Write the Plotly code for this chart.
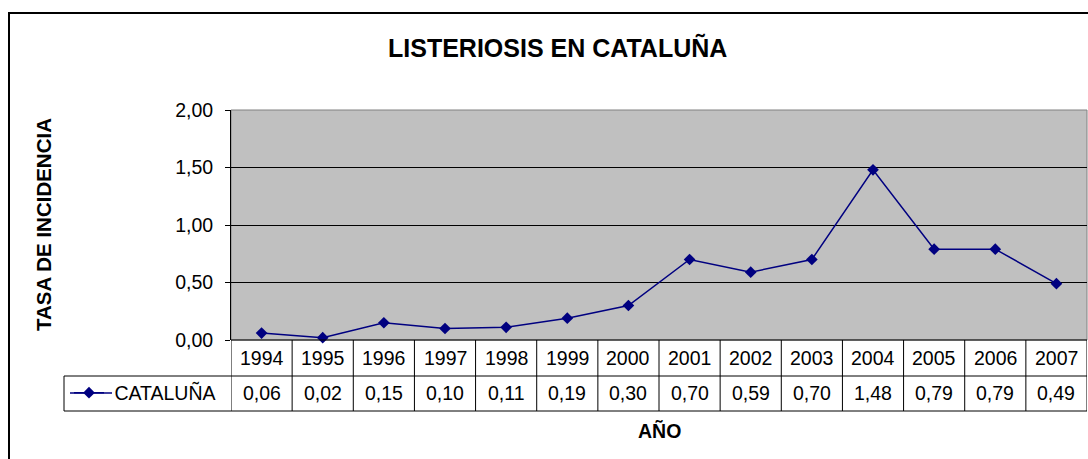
import plotly.graph_objects as go

years = [1994, 1995, 1996, 1997, 1998, 1999, 2000, 2001, 2002, 2003, 2004, 2005, 2006, 2007]
cataluna = [0.06, 0.02, 0.15, 0.10, 0.11, 0.19, 0.30, 0.70, 0.59, 0.70, 1.48, 0.79, 0.79, 0.49]
series_name = "CATALUÑA"
title_text = "LISTERIOSIS EN CATALUÑA"
y_title = "TASA DE INCIDENCIA"
x_title = "AÑO"

W, H = 1088, 459
L, R, T, B = 231, 1087, 110, 340
FONT = "Arial, Liberation Sans, sans-serif"
FS = 19.5
NAVY = "#000080"


def px_x(x):
    return (x - L) / (R - L)


def px_y(y):
    return (B - y) / (B - T)


def fmt(v):
    return f"{v:.2f}".replace(".", ",")


fig = go.Figure()
fig.add_trace(go.Scatter(
    x=years, y=cataluna, mode="lines+markers", name="\u00a0" + series_name,
    line=dict(color=NAVY, width=1.5),
    marker=dict(symbol="diamond", size=9, color=NAVY),
    cliponaxis=False,
))

shapes = []
line_k = dict(color="black", width=1)
# outer chart border
shapes.append(dict(type="rect", xref="paper", yref="paper",
                   x0=px_x(9), x1=px_x(1100), y0=px_y(480), y1=px_y(13),
                   line=dict(color="black", width=2)))
# plot area border (gray top/right)
shapes.append(dict(type="rect", xref="paper", yref="paper", x0=0, x1=1, y0=0, y1=1,
                   line=dict(color="#808080", width=1), layer="below"))
# data table lines
row1, row2 = px_y(376), px_y(411)
x_lo, x_hi = years[0] - 0.5, years[-1] + 0.5
for i in range(len(years) + 1):
    xv = years[0] - 0.5 + i
    shapes.append(dict(type="line", xref="x", yref="paper", x0=xv, x1=xv, y0=row2, y1=0, line=line_k))
shapes.append(dict(type="line", xref="x", yref="paper", x0=x_lo, x1=x_hi, y0=0, y1=0, line=line_k))
shapes.append(dict(type="line", xref="paper", yref="paper", x0=px_x(64), x1=1, y0=row1, y1=row1, line=line_k))
shapes.append(dict(type="line", xref="paper", yref="paper", x0=px_x(64), x1=1, y0=row2, y1=row2, line=line_k))
shapes.append(dict(type="line", xref="paper", yref="paper", x0=px_x(64), x1=px_x(64), y0=row2, y1=row1, line=line_k))
# longer legend key line (Excel style)
shapes.append(dict(type="line", xref="paper", yref="paper", x0=px_x(70), x1=px_x(112),
                   y0=px_y(393), y1=px_y(393), line=dict(color=NAVY, width=1.5)))

annotations = []
for yr, v in zip(years, cataluna):
    annotations.append(dict(x=yr, xref="x", y=px_y(358), yref="paper", text=str(yr), showarrow=False,
                            font=dict(family=FONT, size=FS, color="black"), xanchor="center", yanchor="middle"))
    annotations.append(dict(x=yr, xref="x", y=px_y(393), yref="paper", text=fmt(v), showarrow=False,
                            font=dict(family=FONT, size=FS, color="black"), xanchor="center", yanchor="middle"))
annotations.append(dict(x=px_x(557), xref="paper", y=px_y(47), yref="paper", text=f"<b>{title_text}</b>",
                        showarrow=False, font=dict(family=FONT, size=25, color="black"),
                        xanchor="center", yanchor="middle"))
annotations.append(dict(x=px_x(43), xref="paper", y=0.5, yref="paper", text=f"<b>{y_title}</b>",
                        showarrow=False, textangle=-90, font=dict(family=FONT, size=20.5, color="black"),
                        xanchor="center", yanchor="middle"))
annotations.append(dict(x=0.5, xref="paper", y=px_y(431), yref="paper", text=f"<b>{x_title}</b>",
                        showarrow=False, font=dict(family=FONT, size=FS, color="black"),
                        xanchor="center", yanchor="middle"))

fig.update_layout(
    width=W, height=H,
    margin=dict(l=L, r=W - R, t=T, b=H - B, pad=0),
    paper_bgcolor="white", plot_bgcolor="#C0C0C0",
    separators=",.",
    font=dict(family=FONT, size=FS, color="black"),
    showlegend=True,
    legend=dict(x=px_x(69), y=px_y(393), xanchor="left", yanchor="middle",
                bgcolor="rgba(0,0,0,0)", borderwidth=0, font=dict(family=FONT, size=FS, color="black")),
    xaxis=dict(range=[x_lo, x_hi], showgrid=False, zeroline=False, showticklabels=False,
               showline=False, ticks=""),
    yaxis=dict(range=[0, 2], dtick=0.5, tickformat=".2f", showgrid=True, gridcolor="black",
               gridwidth=1, zeroline=False, showline=True, linecolor="black", linewidth=1,
               ticks="outside", ticklen=5, tickcolor="black", ticklabelstandoff=8,
               tickfont=dict(family=FONT, size=FS, color="black")),
    shapes=shapes, annotations=annotations,
)

fig.write_html("out.html", post_script="document.body.style.margin='0';",
               config={"displayModeBar": False})
